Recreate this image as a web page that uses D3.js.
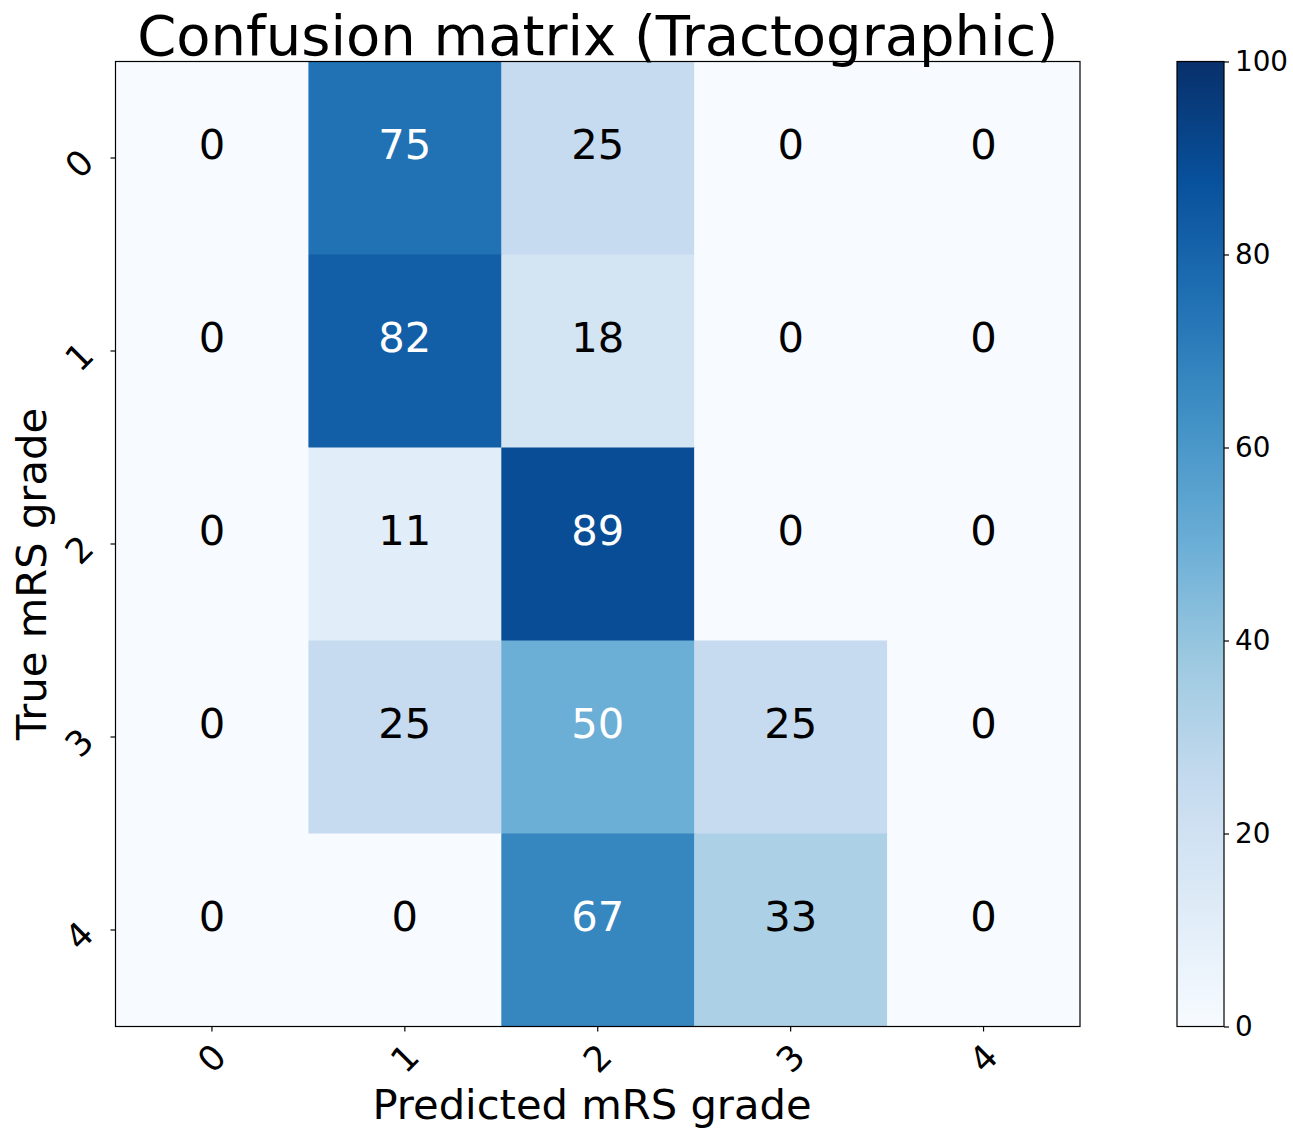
<!DOCTYPE html>
<html lang="en">
	<head>
		<meta charset="utf-8">
		<title>Confusion matrix (Tractographic)</title>
		<script type="text/javascript" src="https://cdn.jsdelivr.net/npm/d3@7"></script>
		<style type="text/css">
			body { margin: 0; background: #fff; }
			svg text { font-family: "DejaVu Sans", sans-serif; fill: #000; }
		</style>
	</head>
	<body>
		<script type="text/javascript">

			// grades on both axes
			var predicted = ["0", "1", "2", "3", "4"];
			var trueGrades = ["0", "1", "2", "3", "4"];

			// percentages, one row per true grade
			var row0 = [0, 75, 25, 0, 0];
			var row1 = [0, 82, 18, 0, 0];
			var row2 = [0, 11, 89, 0, 0];
			var row3 = [0, 25, 50, 25, 0];
			var row4 = [0, 0, 67, 33, 0];
			var rows = [row0, row1, row2, row3, row4];

			var colorbarTicks = [0, 20, 40, 60, 80, 100];

			//Width and height
			var w = 1293;
			var h = 1131;

			// plot area (note: "top" is taken by window.top)
			var pLeft = 115.5, pRight = 1080, pTop = 61.5, pBottom = 1026.5;

			var cells = [];
			rows.forEach(function(r, i) {
				r.forEach(function(v, j) {
					cells.push({ row: trueGrades[i], col: predicted[j], value: v });
				});
			});

			var xScale = d3.scaleBand()
				.domain(predicted)
				.range([pLeft, pRight]);

			var yScale = d3.scaleBand()
				.domain(trueGrades)
				.range([pTop, pBottom]);

			// matplotlib "Blues" = linear through the 9 ColorBrewer colours
			var blues = d3.schemeBlues[9];
			var color = d3.scaleLinear()
				.domain(d3.range(9).map(function(i) { return i * 100 / 8; }))
				.range(blues)
				.clamp(true);

			var thresh = d3.max(cells, function(d) { return d.value; }) / 2;

			var svg = d3.select("body")
						.append("svg")
						.attr("width", w)
						.attr("height", h);

			// cells
			svg.append("g")
				.selectAll("rect")
				.data(cells)
				.enter()
				.append("rect")
				.attr("x", function(d) { return xScale(d.col); })
				.attr("y", function(d) { return yScale(d.row); })
				.attr("width", xScale.bandwidth() + 0.5)
				.attr("height", yScale.bandwidth() + 0.5)
				.attr("fill", function(d) { return color(d.value); });

			// numbers in the cells
			svg.append("g")
				.selectAll("text")
				.data(cells)
				.enter()
				.append("text")
				.attr("x", function(d) { return xScale(d.col) + xScale.bandwidth() / 2; })
				.attr("y", function(d) { return yScale(d.row) + yScale.bandwidth() / 2 + 1; })
				.attr("text-anchor", "middle")
				.style("font-size", "41.67px")
				.style("fill", function(d) { return d.value > thresh ? "#fff" : "#000"; })
				.text(function(d) { return d.value; });

			// frame
			svg.append("rect")
				.attr("x", pLeft)
				.attr("y", pTop)
				.attr("width", pRight - pLeft)
				.attr("height", pBottom - pTop)
				.attr("fill", "none")
				.attr("stroke", "#000")
				.attr("stroke-width", 1.2);

			// x axis
			var xAxis = svg.append("g")
				.attr("transform", "translate(0," + pBottom + ")")
				.call(d3.axisBottom(xScale).tickSize(5).tickSizeOuter(0));
			xAxis.select(".domain").remove();
			xAxis.selectAll("line").attr("stroke", "#000").attr("stroke-width", 1.2);
			xAxis.selectAll("text")
				.attr("x", null).attr("y", null).attr("dy", null)
				.attr("text-anchor", "middle")
				.attr("dominant-baseline", "central")
				.attr("transform", "translate(0,32) rotate(-45)")
				.style("font-size", "35px")
				.style("font-family", "DejaVu Sans");

			// y axis
			var yAxis = svg.append("g")
				.attr("transform", "translate(" + pLeft + ",0)")
				.call(d3.axisLeft(yScale).tickSize(5).tickSizeOuter(0));
			yAxis.select(".domain").remove();
			yAxis.selectAll("line").attr("stroke", "#000").attr("stroke-width", 1.2);
			yAxis.selectAll("text")
				.attr("x", null).attr("y", null).attr("dy", null)
				.attr("text-anchor", "middle")
				.attr("dominant-baseline", "central")
				.attr("transform", "translate(-36,6) rotate(-45)")
				.style("font-size", "35px")
				.style("font-family", "DejaVu Sans");

			// title and axis labels
			svg.append("text")
				.attr("x", (pLeft + pRight) / 2)
				.attr("y", 55)
				.attr("text-anchor", "middle")
				.style("font-size", "56px")
				.text("Confusion matrix (Tractographic)");

			svg.append("text")
				.attr("x", 592)
				.attr("y", 1119)
				.attr("text-anchor", "middle")
				.style("font-size", "41.67px")
				.text("Predicted mRS grade");

			svg.append("text")
				.attr("transform", "translate(46,574) rotate(-90)")
				.attr("text-anchor", "middle")
				.style("font-size", "41.67px")
				.text("True mRS grade");

			// colour bar
			var cbLeft = 1177, cbWidth = 47;
			var cbScale = d3.scaleLinear()
				.domain([0, 100])
				.range([pBottom, pTop]);

			var grad = svg.append("defs")
				.append("linearGradient")
				.attr("id", "cbgrad")
				.attr("x1", 0).attr("y1", 1)
				.attr("x2", 0).attr("y2", 0);
			grad.selectAll("stop")
				.data(color.domain())
				.enter()
				.append("stop")
				.attr("offset", function(d) { return d / 100; })
				.attr("stop-color", function(d) { return color(d); });

			svg.append("rect")
				.attr("x", cbLeft)
				.attr("y", pTop)
				.attr("width", cbWidth)
				.attr("height", pBottom - pTop)
				.attr("fill", "url(#cbgrad)")
				.attr("stroke", "#000")
				.attr("stroke-width", 1.2);

			var cbAxis = svg.append("g")
				.attr("transform", "translate(" + (cbLeft + cbWidth) + ",0)")
				.call(d3.axisRight(cbScale)
					.tickValues(colorbarTicks)
					.tickSize(5)
					.tickPadding(6)
					.tickSizeOuter(0));
			cbAxis.select(".domain").remove();
			cbAxis.selectAll("line").attr("stroke", "#000").attr("stroke-width", 1.2);
			cbAxis.selectAll("text")
				.style("font-size", "27.8px")
				.style("font-family", "DejaVu Sans");

		</script>
	</body>
</html>
